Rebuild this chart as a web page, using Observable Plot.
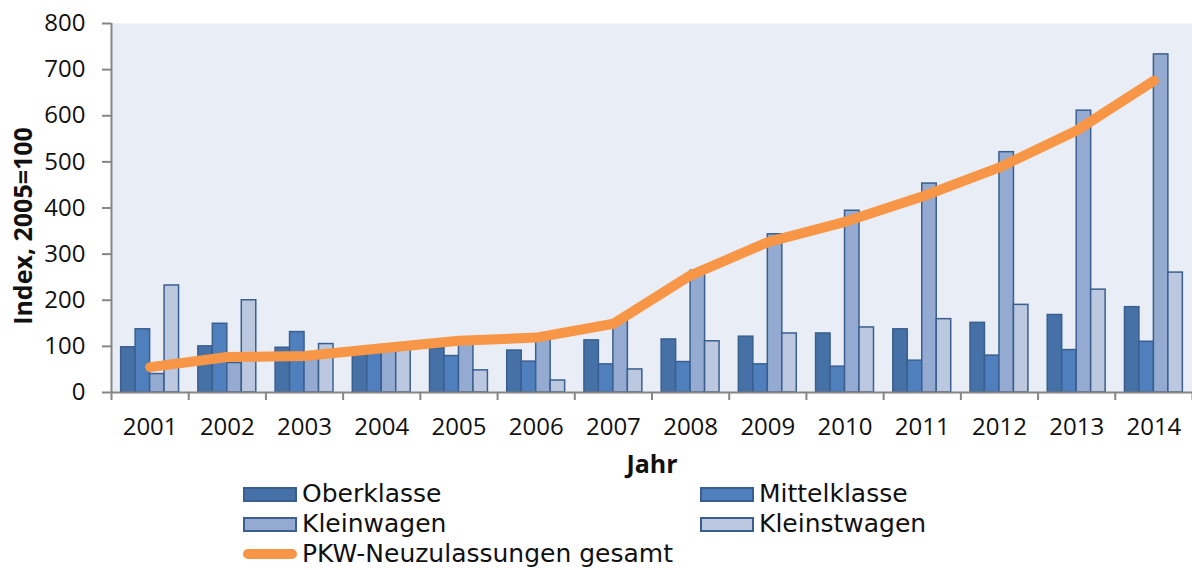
<!DOCTYPE html>
<html>
<head>
<meta charset="utf-8">
<script src="https://cdn.jsdelivr.net/npm/d3@7"></script>
<script src="https://cdn.jsdelivr.net/npm/@observablehq/plot@0.6"></script>
<style>
  body { margin: 0; background: #fff; font-family: "Open Sans", sans-serif; }
  #wrap { position: relative; width: 1192px; height: 570px; overflow: hidden; }
  #legend { position: absolute; left: 243px; top: 479px; display: grid; grid-template-columns: 457px 440px; grid-auto-rows: 30px; font-family: "DejaVu Sans", sans-serif; font-size: 25px; line-height: 30px; color: #111; }
  .item { display: flex; align-items: center; white-space: nowrap; height: 30px; }
  .sw { width: 50px; height: 11px; border: 2px solid #3a5f8f; margin-right: 5px; box-sizing: content-box; }
  .ln { width: 54px; height: 10px; border-radius: 5px; background: #f79646; margin-right: 5px; }
</style>
</head>
<body>
<div id="wrap"><div id="chart"></div><div id="legend"></div></div>
<script>
const years = [2001, 2002, 2003, 2004, 2005, 2006, 2007, 2008, 2009, 2010, 2011, 2012, 2013, 2014];
const seriesNames = ["Oberklasse", "Mittelklasse", "Kleinwagen", "Kleinstwagen"];
const seriesColors = ["#4571a7", "#4f80bd", "#95aad1", "#bcc8e0"];
const oberklasse   = [98, 100, 97, 96, 96, 91, 113, 115, 121, 128, 137, 151, 168, 185];
const mittelklasse = [137, 149, 131, 97, 79, 67, 61, 66, 61, 56, 69, 80, 92, 110];
const kleinwagen   = [40, 64, 78, 98, 108, 115, 155, 264, 343, 394, 453, 521, 611, 733];
const kleinstwagen = [232, 200, 105, 100, 48, 26, 50, 111, 128, 141, 159, 190, 223, 260];
const lineName = "PKW-Neuzulassungen gesamt";
const gesamt = [55, 77, 79, 96, 112, 119, 149, 254, 326, 370, 425, 488, 568, 676];

const seriesValues = [oberklasse, mittelklasse, kleinwagen, kleinstwagen];
const pad = 0.125, bw = 0.1875;
const bars = [];
years.forEach((yr, j) => {
  seriesValues.forEach((vals, i) => {
    bars.push({year: yr, series: seriesNames[i], value: vals[j], x1: j + pad + i * bw, x2: j + pad + (i + 1) * bw});
  });
});
const linePts = years.map((yr, j) => ({year: yr, x: j + 0.5, value: gesamt[j]}));

const axisGray = "#868686";
const chart = Plot.plot({
  width: 1192,
  height: 480,
  marginLeft: 111,
  marginRight: 0,
  marginTop: 23,
  marginBottom: 88,
  style: {fontFamily: "Open Sans, sans-serif", background: "transparent"},
  x: {domain: [0, years.length], axis: null},
  y: {domain: [0, 800], axis: null},
  color: {domain: seriesNames, range: seriesColors},
  marks: [
    Plot.frame({fill: "#e9eef6", stroke: null}),
    Plot.rectY(bars, {x1: "x1", x2: "x2", y1: 0, y2: "value", fill: "series", stroke: "#3a5f8f", strokeWidth: 1.5}),
    Plot.line(linePts, {x: "x", y: "value", stroke: "#f79646", strokeWidth: 10, strokeLinecap: "round", strokeLinejoin: "round"}),
    Plot.ruleY([0], {stroke: axisGray, strokeWidth: 2}),
    Plot.ruleX([0], {stroke: axisGray, strokeWidth: 2}),
    Plot.axisY({ticks: d3.range(0, 801, 100), tickSize: 9, tickPadding: 17, fontSize: 24, stroke: axisGray, strokeWidth: 2, fill: "#111", label: null}),
    Plot.axisX({ticks: d3.range(0, years.length + 1), tickSize: 8, tickFormat: () => "", stroke: axisGray, strokeWidth: 2, label: null}),
    Plot.axisX({ticks: d3.range(0.5, years.length), tickSize: 0, tickPadding: 25, tickFormat: d => String(years[Math.floor(d)]), fontSize: 24, fill: "#111", label: null}),
    Plot.text(["Jahr"], {frameAnchor: "bottom", dy: 80, fontSize: 25, fontWeight: "bold", fill: "#111"}),
    Plot.text(["Index, 2005=100"], {frameAnchor: "left", textAnchor: "middle", rotate: -90, dx: -88, dy: 18, fontSize: 25, fontWeight: "bold", fill: "#111"})
  ]
});
document.getElementById("chart").appendChild(chart);

const legend = document.getElementById("legend");
seriesNames.forEach((name, i) => {
  const it = document.createElement("div");
  it.className = "item";
  it.innerHTML = `<span class="sw" style="background:${seriesColors[i]}"></span><span>${name}</span>`;
  legend.appendChild(it);
});
const li = document.createElement("div");
li.className = "item";
li.innerHTML = `<span class="ln"></span><span>${lineName}</span>`;
legend.appendChild(li);
</script>
</body>
</html>
